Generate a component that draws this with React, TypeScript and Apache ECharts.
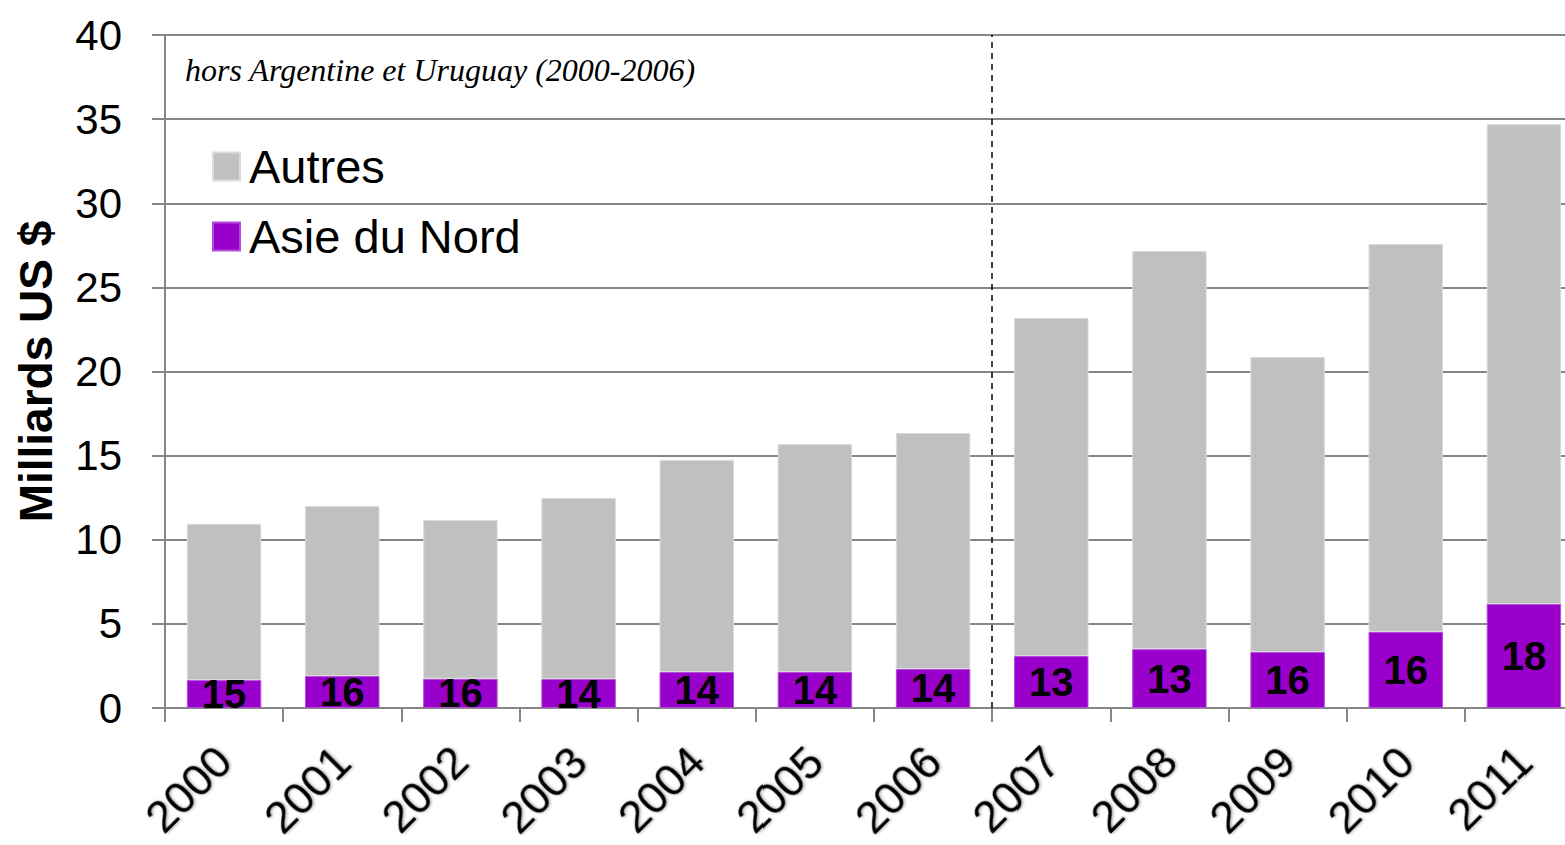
import React, { useEffect, useRef } from "react";
import * as echarts from "echarts";

const years = ["2000", "2001", "2002", "2003", "2004", "2005", "2006", "2007", "2008", "2009", "2010", "2011"];
const asieDuNord = [1.66, 1.9, 1.74, 1.72, 2.14, 2.14, 2.32, 3.09, 3.5, 3.33, 4.53, 6.18];
const autres = [9.29, 10.1, 9.43, 10.76, 12.6, 13.55, 14.02, 20.09, 23.66, 17.53, 23.05, 28.52];
const shares = [15, 16, 16, 14, 14, 14, 14, 13, 13, 16, 16, 18];
const breakPosition = 7; // boundary between 2006 and 2007 (category index)
const note = "hors Argentine et Uruguay (2000-2006)";

const SANS = "'Liberation Sans', Arial, 'DejaVu Sans', sans-serif";
const SERIF = "'Liberation Serif', 'Times New Roman', serif";
const GRID_GRAY = "#868686";

export default function App() {
  const ref = useRef<HTMLDivElement>(null);

  useEffect(() => {
    if (!ref.current) return;
    const chart = echarts.init(ref.current, undefined, { renderer: "svg" });
    chart.setOption({
      animation: false,
      backgroundColor: "#ffffff",
      title: {
        text: note,
        left: 185,
        top: 54,
        padding: 0,
        textStyle: {
          fontFamily: SERIF,
          fontStyle: "italic",
          fontWeight: "normal",
          fontSize: 32,
          lineHeight: 32,
          color: "#000000",
        },
      },
      legend: {
        data: ["Autres", "Asie du Nord"],
        orient: "vertical",
        left: 212,
        top: 143,
        padding: 0,
        itemWidth: 27,
        itemHeight: 28,
        itemGap: 23,
        icon: "rect",
        textStyle: {
          fontFamily: SANS,
          fontSize: 47,
          lineHeight: 47,
          color: "#000000",
          padding: [0, 0, 0, 4],
        },
      },
      grid: { left: 165, top: 35, right: 20, bottom: 137, outerBoundsMode: "none", containLabel: false },
      xAxis: [
        {
          type: "category",
          data: years,
          axisLine: { show: true, lineStyle: { color: GRID_GRAY, width: 2 } },
          axisTick: { show: true, length: 14, alignWithLabel: false, lineStyle: { color: GRID_GRAY, width: 2 } },
          axisLabel: {
            rotate: 45,
            interval: 0,
            margin: 46,
            fontFamily: SANS,
            fontSize: 45,
            color: "#000000",
            textShadowColor: "rgba(0,0,0,0.35)",
            textShadowBlur: 3,
            textShadowOffsetX: 1,
            textShadowOffsetY: 1,
          },
          splitLine: { show: false },
        },
        {
          type: "value",
          show: false,
          min: 0,
          max: years.length,
          splitLine: { show: false },
        },
      ],
      yAxis: {
        type: "value",
        min: 0,
        max: 40,
        interval: 5,
        name: "Milliards US $",
        nameLocation: "middle",
        nameRotate: 90,
        nameGap: 106,
        nameTextStyle: {
          fontFamily: SANS,
          fontWeight: "bold",
          fontSize: 46,
          color: "#000000",
        },
        axisLine: { show: true, lineStyle: { color: GRID_GRAY, width: 2 } },
        axisTick: { show: true, length: 13, lineStyle: { color: GRID_GRAY, width: 2 } },
        axisLabel: {
          margin: 43,
          fontFamily: SANS,
          fontSize: 42,
          color: "#000000",
        },
        splitLine: { show: true, lineStyle: { color: GRID_GRAY, width: 2 } },
      },
      series: [
        {
          name: "Asie du Nord",
          type: "bar",
          stack: "total",
          data: asieDuNord,
          barCategoryGap: "37%",
          itemStyle: { color: "#9900CC", borderColor: "#B34DD9", borderWidth: 1 },
          label: {
            show: true,
            position: "inside",
            formatter: (p: any) => String(shares[p.dataIndex]),
            fontFamily: SANS,
            fontWeight: "bold",
            fontSize: 40,
            color: "#000000",
          },
        },
        {
          name: "Autres",
          type: "bar",
          stack: "total",
          data: autres,
          barCategoryGap: "37%",
          itemStyle: { color: "#C0C0C0", borderColor: "#DADADA", borderWidth: 1 },
        },
        {
          name: "separator",
          type: "line",
          xAxisIndex: 1,
          yAxisIndex: 0,
          data: [],
          silent: true,
          markLine: {
            silent: true,
            symbol: "none",
            label: { show: false },
            lineStyle: { color: "#000000", type: [6, 5], width: 1.5 },
            data: [{ xAxis: breakPosition }],
          },
        },
      ],
    });
    return () => chart.dispose();
  }, []);

  return (
    <div style={{ position: "absolute", left: 0, top: 0, width: 1565, height: 845, overflow: "hidden", background: "#fff" }}>
      <div ref={ref} style={{ width: 1603, height: 845 }} />
    </div>
  );
}
